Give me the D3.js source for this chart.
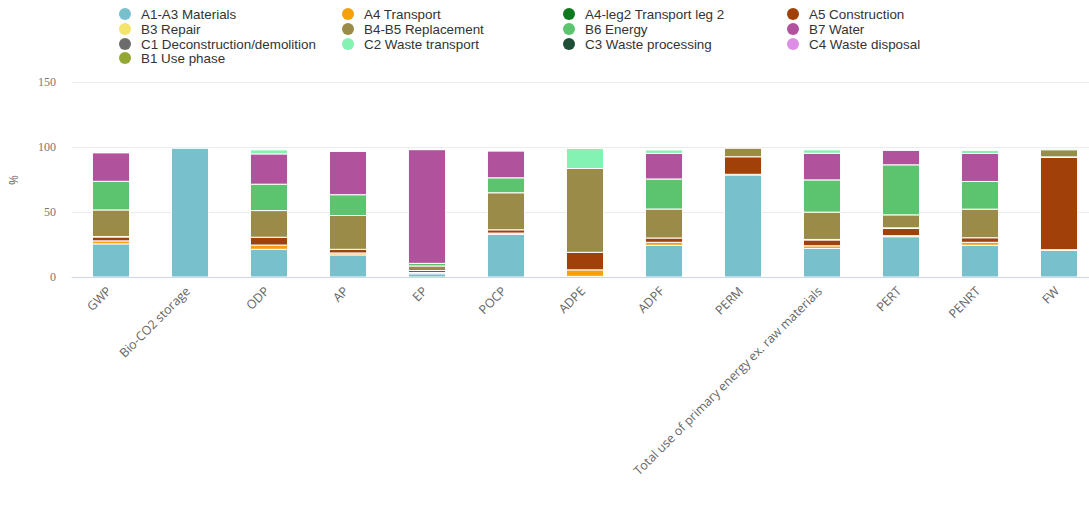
<!DOCTYPE html>
<html>
<head>
<meta charset="utf-8">
<script src="https://cdn.jsdelivr.net/npm/d3@7"></script>
<style>
  html, body { margin: 0; padding: 0; background: #fff; }
  svg { display: block; }
</style>
</head>
<body>
<svg id="chart" width="1089" height="505"></svg>
<script>
// Impact categories along the x axis
const categories = ["GWP", "Bio-CO2 storage", "ODP", "AP", "EP", "POCP", "ADPE", "ADPF",
  "PERM", "Total use of primary energy ex. raw materials", "PERT", "PENRT", "FW"];

// Life-cycle modules (legend order) and their colours
const modules = ["A1-A3 Materials", "A4 Transport", "A4-leg2 Transport leg 2", "A5 Construction",
  "B3 Repair", "B4-B5 Replacement", "B6 Energy", "B7 Water",
  "C1 Deconstruction/demolition", "C2 Waste transport", "C3 Waste processing", "C4 Waste disposal",
  "B1 Use phase"];
const moduleColors = ["#78c1cc", "#f5a10c", "#0b7a1e", "#a2400a",
  "#f3e46c", "#9a8c48", "#5cc46f", "#b1539c",
  "#6c6c6c", "#84f2b2", "#1f4f37", "#dc8fe4",
  "#93a834"];

// Share of each module per category, in %
const a1a3   = [25.5, 99, 21.3, 17, 2.5, 32.8, 0.5, 24.4, 78.5, 22, 31, 24.4, 20.5];
const a4     = [2.3, 0, 3.3, 1.5, 1, 1, 5, 2.3, 0.5, 2, 0.8, 2.3, 0.5];
const a4leg2 = [0, 0, 0, 0, 0, 0, 0, 0, 0, 0, 0, 0, 0];
const a5     = [3, 0, 6, 2.8, 1.5, 2.5, 13.5, 3.3, 13.5, 4.5, 5.5, 3.5, 71];
const b3     = [0.3, 0, 0, 0, 0, 0, 0, 0, 0, 0.4, 0.5, 0, 0.4];
const b4b5   = [20.5, 0, 20.5, 26, 3.5, 28.5, 64.5, 22.3, 6.5, 21, 10, 22, 5.5];
const b6     = [22, 0, 20.3, 16, 2, 11.5, 0, 23.1, 0, 24.8, 38.5, 21.3, 0];
const b7     = [22, 0, 23.3, 33.4, 87.5, 20.7, 0, 19.7, 0, 20.5, 11.2, 21.5, 0];
const c1     = [0, 0, 0, 0, 0, 0, 0, 0, 0, 0, 0, 0, 0];
const c2     = [0.7, 0, 3.1, 0.5, 0.5, 0.5, 15.4, 2.6, 0, 2.6, 0.5, 2.4, 1];
const c3     = [0, 0, 0, 0, 0, 0, 0, 0, 0, 0, 0, 0, 0];
const c4     = [0, 0, 0, 0, 0, 0, 0, 0, 0, 0, 0, 0, 0];
const b1     = [0, 0, 0, 0, 0, 0, 0, 0, 0, 0, 0, 0, 0];
const seriesValues = [a1a3, a4, a4leg2, a5, b3, b4b5, b6, b7, c1, c2, c3, c4, b1];

const yTicks = [0, 50, 100, 150];

// Table for the stack layout
const rows = categories.map((c, i) => {
  const r = { category: c };
  modules.forEach((m, k) => { r[m] = seriesValues[k][i]; });
  return r;
});

const svg = d3.select("#chart");
const margin = { left: 71.5, right: 1098.5, top: 82, bottom: 277 };

const x = d3.scaleBand()
  .domain(categories)
  .range([margin.left, margin.right])
  .paddingInner(0.53)
  .paddingOuter(0.265);

const y = d3.scaleLinear()
  .domain([0, 150])
  .range([margin.bottom, margin.top]);

// Grid lines
svg.append("g")
  .selectAll("line")
  .data(yTicks.filter(d => d > 0))
  .join("line")
  .attr("x1", margin.left)
  .attr("x2", 1089)
  .attr("y1", d => Math.round(y(d)) + 0.5)
  .attr("y2", d => Math.round(y(d)) + 0.5)
  .attr("stroke", "#ececec")
  .attr("stroke-width", 1);

// Y axis labels
const yAxis = d3.axisLeft(y).tickValues(yTicks).tickSize(0).tickPadding(0);
const yG = svg.append("g")
  .attr("transform", `translate(56,0)`)
  .call(yAxis);
yG.select(".domain").remove();
yG.selectAll("text")
  .attr("font-family", "'Liberation Serif', 'DejaVu Serif', serif")
  .attr("font-size", 12)
  .attr("fill", "#777");

// Y axis title
svg.append("text")
  .attr("transform", "translate(18,180) rotate(-90)")
  .attr("text-anchor", "middle")
  .attr("font-family", "'Open Sans', sans-serif")
  .attr("font-size", 12)
  .attr("fill", "#666")
  .text("%");

// Stacked bars
const stack = d3.stack().keys(modules);
const layers = stack(rows);

svg.append("g")
  .selectAll("g")
  .data(layers)
  .join("g")
  .attr("fill", (d, i) => moduleColors[i])
  .selectAll("rect")
  .data(d => d.filter(s => s[1] - s[0] > 0))
  .join("rect")
  .attr("x", d => x(d.data.category))
  .attr("width", x.bandwidth())
  .attr("y", d => y(d[1]))
  .attr("height", d => y(d[0]) - y(d[1]))
  .attr("stroke", "#fff")
  .attr("stroke-width", 1);

// X axis
const xAxis = d3.axisBottom(x).tickSize(0).tickPadding(0);
const xG = svg.append("g")
  .attr("transform", `translate(0,${margin.bottom})`)
  .call(xAxis);
xG.select(".domain")
  .attr("stroke", "#ccd6eb")
  .attr("d", `M${margin.left},0.5H${margin.right}`);
xG.selectAll("text")
  .attr("font-family", "'Open Sans', sans-serif")
  .attr("font-size", 12.4)
  .attr("fill", "#666")
  .attr("text-anchor", "end")
  .attr("dy", null)
  .attr("transform", "translate(1,15) rotate(-45)");

// Legend
const legend = svg.append("g");
const colX = [125, 348, 569, 793];
const rowY = [14, 29, 44, 58];
const items = legend.selectAll("g")
  .data(modules)
  .join("g")
  .attr("transform", (d, i) => `translate(${colX[i % 4]},${rowY[Math.floor(i / 4)]})`);
items.append("circle")
  .attr("r", 6)
  .attr("fill", (d, i) => moduleColors[i]);
items.append("text")
  .attr("x", 16)
  .attr("dy", "0.35em")
  .attr("font-family", "'Liberation Sans', Arial, sans-serif")
  .attr("font-size", 13.4)
  .attr("fill", "#333")
  .text(d => d);
</script>
</body>
</html>
